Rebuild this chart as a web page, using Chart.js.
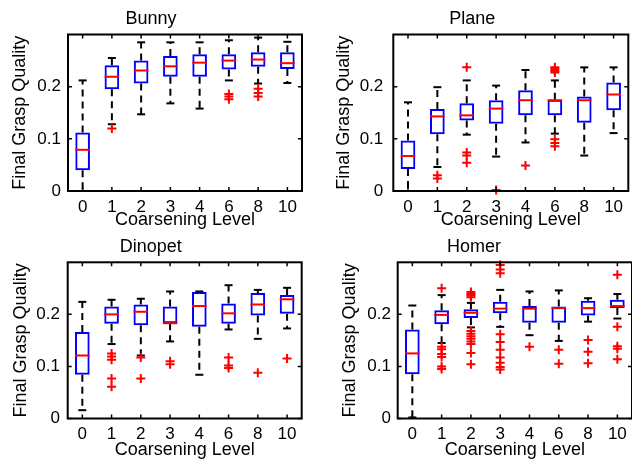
<!DOCTYPE html>
<html>
<head>
<meta charset="utf-8">
<script src="https://cdn.jsdelivr.net/npm/chart.js@4.4.1/dist/chart.umd.min.js"></script>
<style>
  html, body { margin: 0; padding: 0; background: #fff; }
  #wrap { position: relative; width: 632px; height: 460px; overflow: hidden; background: #fff; }
  #wrap canvas { position: absolute; }
</style>
</head>
<body>
<div id="wrap">
  <canvas id="bunny" width="352" height="231" style="left:0px;top:0px"></canvas>
  <canvas id="plane" width="380" height="231" style="left:316px;top:0px"></canvas>
  <canvas id="dinopet" width="348" height="231" style="left:0px;top:230px"></canvas>
  <canvas id="homer" width="373" height="231" style="left:316px;top:230px"></canvas>
</div>
<script>
// coarsening levels on the x axis
const categories = ['0', '1', '2', '3', '4', '6', '8', '10'];
const yTicks = [0, 0.1, 0.2];

// each box: [lower whisker, q1, median, q3, upper whisker]
const bunnyBoxes = [
    [0.000, 0.040, 0.079, 0.112, 0.212],
    [0.128, 0.195, 0.219, 0.241, 0.255],
    [0.147, 0.206, 0.231, 0.250, 0.285],
    [0.168, 0.219, 0.239, 0.259, 0.285],
    [0.158, 0.219, 0.246, 0.262, 0.285],
    [0.212, 0.233, 0.250, 0.262, 0.289],
    [0.206, 0.238, 0.252, 0.266, 0.294],
    [0.207, 0.234, 0.245, 0.266, 0.286]
];
const bunnyOutliers = [[], [0.120], [], [], [], [0.186, 0.181, 0.176], [0.196, 0.188, 0.181], []];

const planeBoxes = [
    [0.000, 0.042, 0.067, 0.097, 0.170],
    [0.046, 0.109, 0.143, 0.157, 0.199],
    [0.108, 0.135, 0.145, 0.168, 0.212],
    [0.066, 0.129, 0.158, 0.174, 0.202],
    [0.093, 0.145, 0.174, 0.193, 0.232],
    [0.110, 0.145, 0.174, 0.175, 0.212],
    [0.068, 0.131, 0.174, 0.181, 0.237],
    [0.111, 0.155, 0.185, 0.208, 0.237]
];
const planeOutliers = [[], [0.030, 0.024], [0.237, 0.074, 0.068, 0.054], [0.002], [0.049],
    [0.237, 0.234, 0.230, 0.227, 0.099, 0.092, 0.086], [], []];

const dinopetBoxes = [
    [0.016, 0.084, 0.121, 0.166, 0.224],
    [0.143, 0.182, 0.200, 0.215, 0.228],
    [0.121, 0.179, 0.205, 0.219, 0.230],
    [0.148, 0.183, 0.183, 0.215, 0.244],
    [0.084, 0.176, 0.216, 0.243, 0.244],
    [0.171, 0.182, 0.202, 0.221, 0.256],
    [0.153, 0.198, 0.219, 0.241, 0.247],
    [0.173, 0.201, 0.229, 0.237, 0.251]
];
const dinopetOutliers = [[], [0.125, 0.119, 0.113, 0.077, 0.061], [0.117, 0.077], [0.110, 0.104], [],
    [0.117, 0.102, 0.097], [0.088], [0.115]];

const homerBoxes = [
    [0.002, 0.085, 0.125, 0.171, 0.217],
    [0.145, 0.181, 0.199, 0.208, 0.237],
    [0.175, 0.193, 0.203, 0.210, 0.222],
    [0.176, 0.202, 0.211, 0.224, 0.247],
    [0.160, 0.184, 0.211, 0.216, 0.244],
    [0.149, 0.184, 0.212, 0.215, 0.246],
    [0.186, 0.198, 0.212, 0.226, 0.231],
    [0.192, 0.212, 0.216, 0.228, 0.239]
];
const homerOutliers = [[],
    [0.250, 0.138, 0.133, 0.124, 0.118, 0.100, 0.095],
    [0.243, 0.239, 0.236, 0.233, 0.168, 0.163, 0.158, 0.153, 0.148, 0.143, 0.126, 0.104],
    [0.295, 0.286, 0.279, 0.162, 0.147, 0.132, 0.117, 0.107, 0.099, 0.094],
    [0.138], [0.132, 0.105], [0.151, 0.128, 0.106], [0.276, 0.176, 0.139, 0.134, 0.114]];

Chart.defaults.color = '#000';
Chart.defaults.font.family = '"Liberation Sans", Arial, Helvetica, sans-serif';

// dashed whiskers, drawn under the boxes
function whiskerPlugin(boxes) {
    return {
        id: 'whiskers',
        beforeDatasetsDraw(chart) {
            const { ctx, scales: { x, y } } = chart;
            ctx.save();
            ctx.strokeStyle = '#000';
            ctx.lineWidth = 2;
            ctx.setLineDash([7, 5]);
            boxes.forEach((b, i) => {
                const px = x.getPixelForValue(i);
                ctx.beginPath();
                ctx.moveTo(px, y.getPixelForValue(b[3]));
                ctx.lineTo(px, y.getPixelForValue(b[4]));
                ctx.moveTo(px, y.getPixelForValue(b[1]));
                ctx.lineTo(px, y.getPixelForValue(b[0]));
                ctx.stroke();
            });
            ctx.restore();
        }
    };
}

// matlab style axes box with inward ticks
const framePlugin = {
    id: 'frame',
    afterDatasetsDraw(chart) {
        const { ctx, chartArea: a, scales: { x, y } } = chart;
        const t = 4;
        ctx.save();
        ctx.strokeStyle = '#000';
        ctx.lineWidth = 1.5;
        ctx.beginPath();
        x.ticks.forEach((tk, i) => {
            const px = x.getPixelForTick(i);
            ctx.moveTo(px, a.bottom); ctx.lineTo(px, a.bottom - t);
            ctx.moveTo(px, a.top); ctx.lineTo(px, a.top + t);
        });
        y.ticks.forEach((tk, i) => {
            const py = y.getPixelForTick(i);
            ctx.moveTo(a.left, py); ctx.lineTo(a.left + t, py);
            ctx.moveTo(a.right, py); ctx.lineTo(a.right - t, py);
        });
        ctx.stroke();
        ctx.lineWidth = 2;
        ctx.strokeRect(a.left, a.top, a.right - a.left, a.bottom - a.top);
        ctx.restore();
    }
};

function makePanel(id, title, boxes, outliers, lay) {
    const outlierPoints = [];
    outliers.forEach((list, i) => list.forEach(v => outlierPoints.push({ x: categories[i], y: v })));

    new Chart(document.getElementById(id), {
        type: 'bar',
        data: {
            labels: categories,
            datasets: [
                {
                    type: 'line', label: 'median', data: boxes.map(b => b[2]),
                    showLine: false, pointStyle: 'line', pointRadius: 7.3, pointBorderWidth: 2,
                    borderColor: '#ff0000', pointBorderColor: '#ff0000', clip: false
                },
                {
                    type: 'line', label: 'outliers', data: outlierPoints,
                    showLine: false, pointStyle: 'cross', pointRadius: 4.5, pointBorderWidth: 2,
                    borderColor: '#ff0000', pointBorderColor: '#ff0000', clip: false
                },
                {
                    type: 'line', label: 'upper', data: boxes.map(b => b[4]),
                    showLine: false, pointStyle: 'line', pointRadius: 4, pointBorderWidth: 2,
                    borderColor: '#000', pointBorderColor: '#000', clip: false
                },
                {
                    type: 'line', label: 'lower', data: boxes.map(b => b[0]),
                    showLine: false, pointStyle: 'line', pointRadius: 4, pointBorderWidth: 2,
                    borderColor: '#000', pointBorderColor: '#000', clip: false
                },
                {
                    type: 'bar', label: 'box', data: boxes.map(b => [b[1], b[3]]),
                    backgroundColor: 'rgba(0,0,0,0)', borderColor: '#0000ff', borderWidth: 2,
                    borderSkipped: false, barPercentage: 0.5, categoryPercentage: 1.0
                }
            ]
        },
        options: {
            responsive: false,
            animation: false,
            events: [],
            layout: { padding: { left: 0, top: 0, bottom: 0, right: lay.padRight } },
            plugins: {
                legend: { display: false },
                tooltip: { enabled: false },
                title: {
                    display: true, text: title,
                    font: { size: 18, weight: 'normal' },
                    padding: lay.titlePad
                }
            },
            scales: {
                x: {
                    grid: { display: false, drawTicks: false },
                    border: { display: false },
                    ticks: { font: { size: 17 }, padding: lay.xTickPad, autoSkip: false, maxRotation: 0 },
                    title: { display: true, text: 'Coarsening Level', font: { size: 18 }, padding: 0 },
                    afterFit: s => { s.height = lay.xHeight; }
                },
                y: {
                    min: 0, max: 0.3,
                    grid: { display: false, drawTicks: false },
                    border: { display: false },
                    afterBuildTicks: s => { s.ticks = yTicks.map(v => ({ value: v })); },
                    ticks: {
                        font: { size: 17 }, padding: lay.yTickPad,
                        callback: v => (v === 0 ? '0' : v.toFixed(1))
                    },
                    title: {
                        display: true, text: 'Final Grasp Quality', font: { size: 18 },
                        padding: { top: lay.yTitlePad, bottom: 0 }
                    },
                    afterFit: s => { s.width = lay.yWidth; }
                }
            }
        },
        plugins: [whiskerPlugin(boxes), framePlugin]
    });
}

makePanel('bunny', 'Bunny', bunnyBoxes, bunnyOutliers, {
    padRight: 50, yWidth: 68, xHeight: 40, titlePad: { top: 8.2, bottom: 4.7 },
    yTitlePad: 9.7, yTickPad: 7, xTickPad: 6
});
makePanel('plane', 'Plane', planeBoxes, planeOutliers, {
    padRight: 67.7, yWidth: 77.3, xHeight: 40, titlePad: { top: 8.2, bottom: 4.7 },
    yTitlePad: 17.5, yTickPad: 10, xTickPad: 6
});
makePanel('dinopet', 'Dinopet', dinopetBoxes, dinopetOutliers, {
    padRight: 46.3, yWidth: 67.7, xHeight: 42.5, titlePad: { top: 6.2, bottom: 4.5 },
    yTitlePad: 10, yTickPad: 7.7, xTickPad: 5.3
});
makePanel('homer', 'Homer', homerBoxes, homerOutliers, {
    padRight: 57, yWidth: 81.7, xHeight: 42.5, titlePad: { top: 6.2, bottom: 4.5 },
    yTitlePad: 23.2, yTickPad: 6.7, xTickPad: 5.3
});
</script>
</body>
</html>
